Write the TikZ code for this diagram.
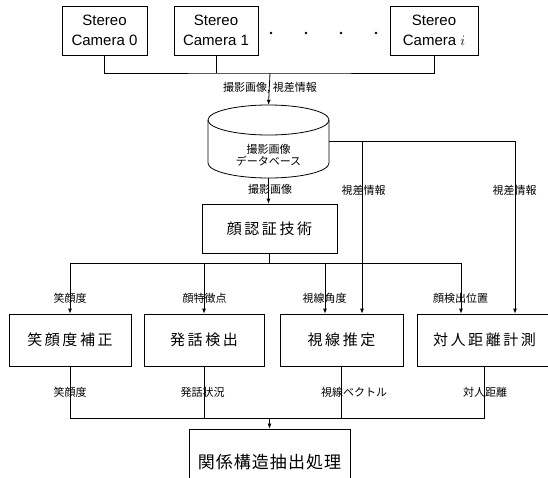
\documentclass[tikz,border=0pt]{standalone}
\usepackage{fontspec}
\setmainfont{Liberation Sans}
\newfontfamily\jp{Noto Sans CJK JP}
\newfontfamily\jpbox{Noto Sans CJK JP}[LetterSpace=17]
\newfontfamily\jpbig{Noto Sans CJK JP}[LetterSpace=6]
\usetikzlibrary{arrows.meta}
\begin{document}
\begin{tikzpicture}[x=1pt, y=-1pt,
  box/.style={draw, line width=0.8pt, inner sep=0pt, align=center},
  cam/.style={box, minimum width=85pt, minimum height=49pt, font=\fontsize{15}{20}\selectfont},
  proc/.style={box, minimum height=52pt, font=\jpbox\fontsize{15}{18}\selectfont},
  lbl/.style={inner sep=0pt, font=\jp\fontsize{11}{13}\selectfont},
  link/.style={line width=0.8pt},
  arr/.style={link, -{Latex[length=5pt,width=4pt]}}]
\useasboundingbox (0,0) rectangle (548,477);

% cameras
\node[cam] (c0) at (104.5,30.5) {Stereo\\Camera 0};
\node[cam, minimum width=84pt] (c1) at (216,30.5) {Stereo\\Camera 1};
\node[cam, minimum width=88pt] (ci) at (434,30.5) {Stereo\\Camera $i$};
\foreach \x in {271,306,341,376} \fill (\x,33) circle (1.4pt);

% camera bus
\coordinate (bus) at (270,73);
\draw[link] (c0.south) |- (bus) -| (ci.south);
\draw[link] (c1.south) -- (c1.south |- bus);

% database cylinder
\node[inner sep=0pt, minimum width=121pt, minimum height=73pt] (db) at (268.5,141.5) {};
\draw[line width=0.8pt] (268.5,120) ellipse [x radius=60.5, y radius=15];
\draw[line width=0.8pt] (208,120) -- (208,163)
  arc[start angle=180, end angle=0, x radius=60.5, y radius=15] -- (329,120);
\node[lbl, align=center, font=\jp\fontsize{11}{12}\selectfont] (dbl) at (268.5,155) {撮影画像\\データベース};

\draw[arr] (bus) -- (db.north);
\node[lbl] (l0) at (270,88) {撮影画像, 視差情報};

% face recognition
\node[proc, minimum width=135pt, minimum height=49pt] (fr) at (269.5,228.5) {顔認証技術};
\draw[arr] (db.south) -- (db.south |- fr.north);
\node[lbl] (l1) at (270,189) {撮影画像};

% processing boxes
\node[proc, minimum width=122pt] (sm) at (70,340) {笑顔度補正};
\node[proc, minimum width=120pt] (sp) at (204,340) {発話検出};
\node[proc, minimum width=123pt] (gz) at (341.5,340) {視線推定};
\node[proc, minimum width=135pt] (ds) at (484.5,340) {対人距離計測};

% disparity lines
\draw[arr] (db.east) -| ([xshift=20.5pt]gz.north);
\draw[arr] (db.east) -| ([xshift=30.5pt]ds.north);
\node[lbl] (l2) at (363.5,190) {視差情報};
\node[lbl] (l3) at (514.5,190) {視差情報};

% face branch
\coordinate (fb) at ([yshift=-10pt]fr.south);
\draw[link] (fr.south) -- (fb);
\draw[arr] (fb) -| (sm.north);
\draw[arr] (fb) -| (sp.north);
\draw[arr] (fb) -| ([xshift=-16.5pt]gz.north);
\draw[arr] (fb) -| ([xshift=-23.5pt]ds.north);
\node[lbl] (l4) at (70,298) {笑顔度};
\node[lbl] (l5) at (204.5,298) {顔特徴点};
\node[lbl] (l6) at (324.5,298) {視線角度};
\node[lbl] (l7) at (460.5,298) {顔検出位置};

% merge into final stage
\node[proc, font=\jpbig\fontsize{17}{20}\selectfont, minimum width=161pt, minimum height=66pt] (fin) at (269.5,462) {関係構造抽出処理};
\coordinate (mg) at (269.5,418);
\draw[link] (sm.south) |- (mg);
\draw[link] (sp.south) |- (mg);
\draw[link] (gz.south) |- (mg);
\draw[link] (ds.south) |- (mg);
\draw[arr] (mg) -- (fin.north);
\node[lbl] (l8) at (70,392) {笑顔度};
\node[lbl] (l9) at (202.5,392) {発話状況};
\node[lbl] (l10) at (354,392) {視線ベクトル};
\node[lbl] (l11) at (485,392) {対人距離};
\end{tikzpicture}
\end{document}
